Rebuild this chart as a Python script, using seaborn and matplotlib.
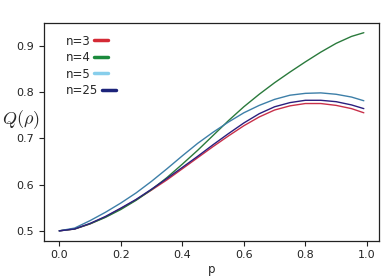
import matplotlib
matplotlib.use("Agg")
import matplotlib.pyplot as plt
from matplotlib.lines import Line2D
import seaborn as sns
import pandas as pd

p = [0.0, 0.05, 0.1, 0.15, 0.2, 0.25, 0.3, 0.35, 0.4, 0.45, 0.5,
     0.55, 0.6, 0.65, 0.7, 0.75, 0.8, 0.85, 0.9, 0.95, 0.99]
q_n3 = [0.500, 0.504, 0.515, 0.530, 0.548, 0.567, 0.588, 0.610, 0.634, 0.658, 0.682,
        0.705, 0.727, 0.746, 0.761, 0.770, 0.775, 0.775, 0.771, 0.764, 0.755]
q_n4 = [0.500, 0.504, 0.515, 0.529, 0.546, 0.566, 0.589, 0.615, 0.644, 0.674, 0.706,
        0.738, 0.768, 0.795, 0.820, 0.843, 0.865, 0.886, 0.905, 0.920, 0.928]
q_n5 = [0.500, 0.506, 0.522, 0.540, 0.560, 0.582, 0.607, 0.634, 0.662, 0.689, 0.713,
        0.735, 0.755, 0.771, 0.784, 0.793, 0.797, 0.798, 0.795, 0.789, 0.781]
q_n25 = [0.500, 0.504, 0.516, 0.531, 0.549, 0.568, 0.590, 0.613, 0.637, 0.661, 0.686,
         0.710, 0.733, 0.753, 0.768, 0.777, 0.782, 0.782, 0.779, 0.772, 0.764]

labels = ["n=3", "n=4", "n=5", "n=25"]
line_colors = ["#c8304a", "#2a7a3c", "#3d7fa8", "#2b1f7e"]
legend_colors = ["#d42a35", "#1b8a3c", "#87ceeb", "#1c237a"]

df = pd.DataFrame({
    "p": p * 4,
    "Q": q_n3 + q_n4 + q_n5 + q_n25,
    "n": sum([[l] * len(p) for l in labels], []),
})

sns.set_style("ticks")
plt.rcParams["font.family"] = ["DejaVu Sans"]
plt.rcParams["mathtext.fontset"] = "cm"

fig = plt.figure(figsize=(3.86, 2.78), dpi=100)
ax = fig.add_axes([0.114, 0.134, 0.868, 0.784])
sns.lineplot(data=df, x="p", y="Q", hue="n", palette=line_colors,
             linewidth=1.0, legend=False, ax=ax)

ax.set_yticks([0.5, 0.6, 0.7, 0.8, 0.9])
ax.set_xticks([0.0, 0.2, 0.4, 0.6, 0.8, 1.0])
ax.tick_params(labelsize=8, length=3.5, width=0.8, colors="#222222")
for s in ax.spines.values():
    s.set_linewidth(0.9)
    s.set_color("#222222")

ax.set_xlabel("p", fontsize=8.5, labelpad=2)
ax.set_ylabel(r"$Q(\rho)$", fontsize=13, rotation=0, va="center")
ax.yaxis.set_label_coords(-0.07, 0.555)

handles = [Line2D([0], [0], color=c, lw=2.5) for c in legend_colors]
leg = ax.legend(handles, labels, loc="upper left", bbox_to_anchor=(0.035, 0.995),
                frameon=False, markerfirst=False, handlelength=1.2, handletextpad=0.25,
                labelspacing=0.3, fontsize=8.5)
for col in leg._legend_handle_box.get_children():
    col.align = "left"

fig.savefig("out.png", dpi=100)
